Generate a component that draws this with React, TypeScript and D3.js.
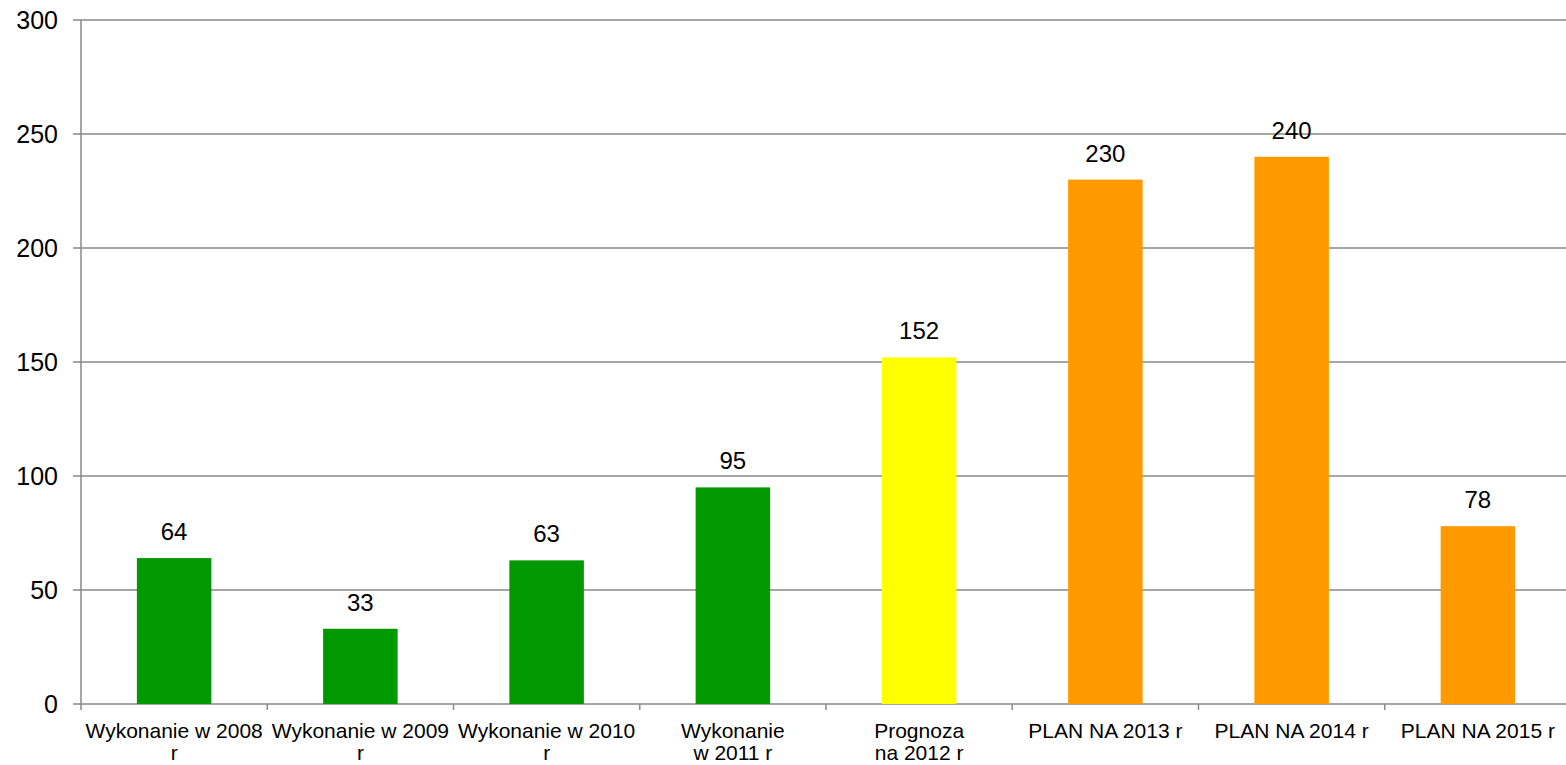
import React from "react";
import * as d3 from "d3";

const categories = [
  "Wykonanie w 2008\nr",
  "Wykonanie w 2009\nr",
  "Wykonanie w 2010\nr",
  "Wykonanie\nw 2011 r",
  "Prognoza\nna 2012 r",
  "PLAN NA 2013 r",
  "PLAN NA 2014 r",
  "PLAN NA 2015 r",
];
const values = [64, 33, 63, 95, 152, 230, 240, 78];
const barColors = ["#009900", "#009900", "#009900", "#009900", "#FFFF00", "#FF9900", "#FF9900", "#FF9900"];
const yTicks = [0, 50, 100, 150, 200, 250, 300];

const W = 1566;
const H = 765;
const M = { left: 81, right: -5, top: 20, bottom: 61 };
const FONT = "'Liberation Sans', Arial, sans-serif";
const GRID = "#898989";

export default function App() {
  const x = d3
    .scaleBand<string>()
    .domain(categories)
    .range([M.left, W - M.right])
    .paddingInner(0.6)
    .paddingOuter(0.3);
  const y = d3.scaleLinear().domain([0, 300]).range([H - M.bottom, M.top]);
  const step = x.step();
  const y0 = y(0);

  return (
    <div style={{ position: "absolute", left: 0, top: 0 }}>
      <svg width={W} height={H} style={{ display: "block", fontFamily: FONT }}>
        <rect x={0} y={0} width={W} height={H} fill="#ffffff" />
        {yTicks.map((t) => (
          <g key={t}>
            <line x1={M.left - 8} x2={W} y1={y(t)} y2={y(t)} stroke={GRID} strokeWidth={1.5} />
            <text x={58} y={y(t)} dy="0.35em" textAnchor="end" fontSize={25} fill="#000">
              {t}
            </text>
          </g>
        ))}
        <line x1={M.left} x2={M.left} y1={M.top} y2={y0 + 6} stroke={GRID} strokeWidth={1.5} />
        {categories.map((c, i) => (
          <line
            key={"tk" + i}
            x1={M.left + step * (i + 1)}
            x2={M.left + step * (i + 1)}
            y1={y0}
            y2={y0 + 6}
            stroke={GRID}
            strokeWidth={1.5}
          />
        ))}
        {categories.map((c, i) => (
          <rect
            key={"b" + i}
            x={x(c)!}
            y={y(values[i])}
            width={x.bandwidth()}
            height={y0 - y(values[i])}
            fill={barColors[i]}
          />
        ))}
        {categories.map((c, i) => (
          <text
            key={"v" + i}
            x={x(c)! + x.bandwidth() / 2}
            y={y(values[i]) - 18}
            textAnchor="middle"
            fontSize={24}
            fill="#000"
          >
            {values[i]}
          </text>
        ))}
        {categories.map((c, i) => (
          <text
            key={"l" + i}
            x={x(c)! + x.bandwidth() / 2}
            y={y0 + 34}
            textAnchor="middle"
            fontSize={21}
            fill="#000"
          >
            {c.split("\n").map((ln, j) => (
              <tspan key={j} x={x(c)! + x.bandwidth() / 2} dy={j === 0 ? 0 : 22}>
                {ln}
              </tspan>
            ))}
          </text>
        ))}
      </svg>
    </div>
  );
}
